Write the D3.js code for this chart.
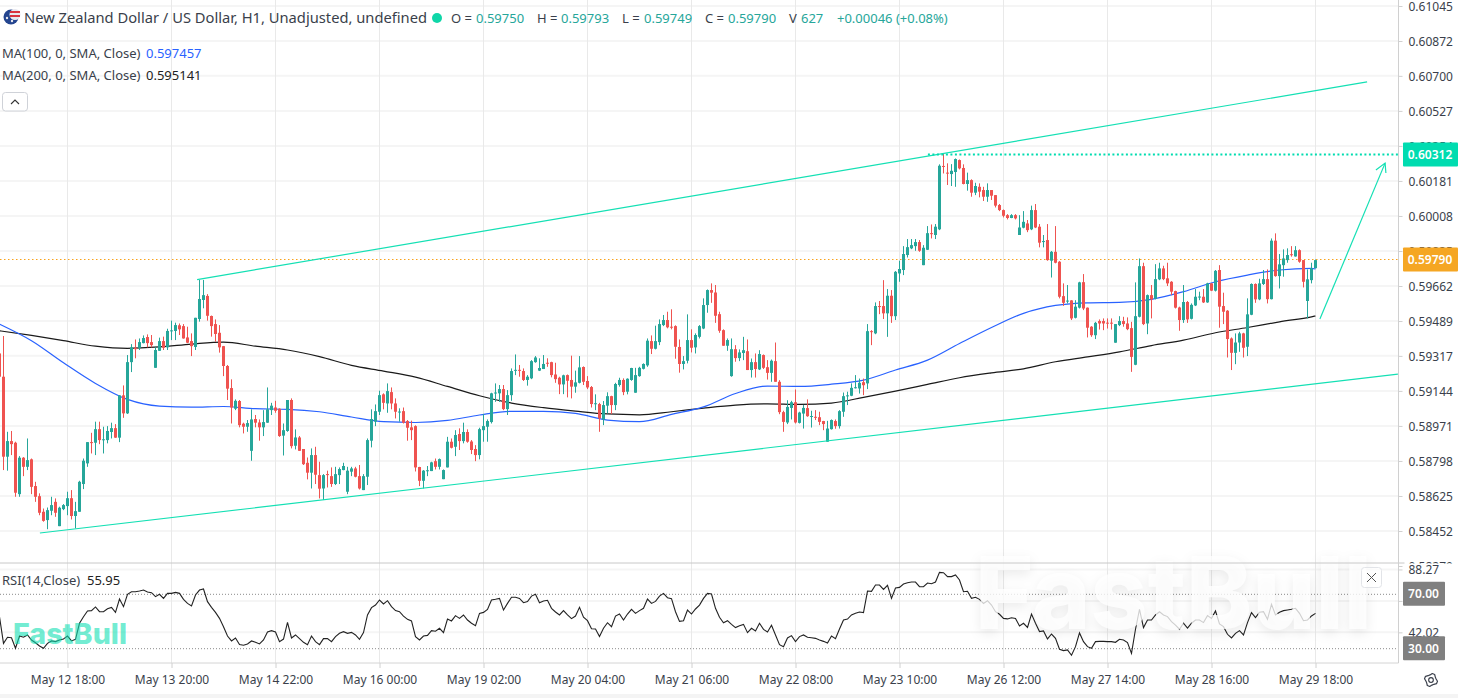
<!DOCTYPE html>
<html>
<head>
<meta charset="utf-8">
<script src="https://cdn.jsdelivr.net/npm/d3@7"></script>
<style>
body { margin: 0; background: #fff; }
svg { display: block; font-family: "Noto Sans", sans-serif; }
.tick text { fill: #3a3f4b; font-size: 12px; }
</style>
</head>
<body>
<div id="chart"></div>
<script>
// prices are kept in points (1 point = 0.00001 USD)
// one hourly bar per row: open, high, low, close
let ohlc = [
[59329,59329,59214,59214],[59214,59415,58753,58819],[58819,58942,58750,58896],[58896,58946,58827,58881],[58888,58893,58621,58641],
[58634,58822,58621,58814],[58814,58817,58723,58769],[58769,58909,58753,58802],[58806,58810,58634,58670],[58674,58695,58596,58621],
[58624,58638,58530,58542],[58547,58563,58498,58502],[58506,58568,58461,58555],[58552,58621,58530,58580],[58596,58613,58522,58542],
[58476,58572,58476,58567],[58560,58585,58555,58580],[58575,58646,58530,58614],[58614,58654,58509,58526],[58526,58596,58465,58550],
[58547,58700,58547,58695],[58684,58810,58659,58799],[58786,58891,58769,58891],[58891,58937,58835,58888],[58888,58992,58827,58955],
[58955,58992,58881,58901],[58904,58967,58835,58905],[58901,58970,58885,58946],[58941,58987,58909,58960],[58960,58980,58912,58913],
[58913,59123,58891,59122],[59122,59171,59011,59033],[59033,59321,59030,59286],[59286,59375,59237,59359],[59356,59398,59305,59350],
[59357,59403,59346,59385],[59380,59418,59379,59405],[59410,59423,59359,59380],[59385,59420,59359,59370],[59258,59359,59258,59346],
[59342,59407,59342,59390],[59390,59412,59346,59357],[59359,59451,59346,59440],[59440,59491,59395,59443],[59440,59481,59395,59469],
[59468,59477,59420,59448],[59464,59474,59402,59403],[59408,59461,59380,59382],[59390,59428,59316,59365],[59361,59505,59346,59505],
[59499,59692,59486,59598],[59593,59692,59552,59617],[59613,59622,59491,59515],[59514,59516,59412,59464],[59474,59497,59387,59425],
[59431,59469,59333,59359],[59365,59366,59217,59267],[59267,59272,59099,59155],[59158,59201,58983,59062],[59056,59102,59049,59095],
[59094,59099,58964,58975],[58982,58987,58934,58967],[58967,59000,58942,58985],[58848,59053,58799,59003],[59005,59025,58964,58987],
[58988,59003,58898,58964],[58964,59049,58921,58990],[58987,59161,58986,59053],[59049,59085,59025,59071],[59062,59095,59036,59046],
[59056,59058,58917,58921],[58923,58983,58825,58950],[58946,59099,58942,59099],[59099,59107,58860,58871],[58873,58954,58855,58914],
[58914,58921,58848,58848],[58857,58857,58778,58782],[58789,58815,58707,58740],[58740,58860,58662,58827],[58827,58868,58684,58730],
[58728,58794,58613,58661],[58662,58733,58605,58728],[58733,58750,58667,58730],[58723,58766,58670,58684],[58684,58769,58679,58733],
[58728,58766,58684,58758],[58753,58789,58752,58773],[58646,58769,58634,58750],[58745,58769,58723,58761],[58761,58769,58717,58720],
[58723,58778,58657,58662],[58654,58733,58654,58723],[58720,58909,58679,58901],[58898,59053,58865,59005],[58992,59077,58970,59044],
[59041,59145,59025,59123],[59127,59132,59053,59085],[59082,59181,59036,59143],[59138,59161,59053,59082],[59082,59107,59008,59041],
[59041,59058,58992,59042],[59044,59062,58983,58987],[58995,59000,58898,58962],[58964,58997,58901,58950],[58970,58974,58746,58766],
[58768,58769,58674,58700],[58700,58753,58662,58750],[58751,58773,58723,58752],[58748,58794,58748,58791],[58797,58810,58756,58769],
[58769,58810,58756,58807],[58708,58756,58708,58753],[58766,58917,58766,58893],[58893,58909,58860,58863],[58868,58950,58822,58926],
[58931,58959,58852,58896],[58896,58987,58885,58941],[58941,58954,58888,58893],[58894,58901,58832,58852],[58857,58876,58797,58827],
[58827,58962,58806,58955],[58950,59030,58893,58970],[58967,59003,58893,58995],[58990,59135,58983,59132],[59135,59181,59090,59136],
[59132,59173,59090,59153],[59153,59173,59049,59054],[59054,59148,59025,59123],[59123,59255,59095,59242],[59247,59324,59222,59248],
[59248,59272,59214,59245],[59242,59255,59193,59198],[59198,59222,59170,59214],[59206,59296,59202,59291],[59286,59316,59283,59309],
[59244,59305,59242,59257],[59252,59321,59252,59277],[59283,59305,59263,59282],[59286,59288,59211,59222],[59225,59283,59184,59202],
[59209,59214,59128,59176],[59176,59224,59128,59221],[59222,59225,59112,59194],[59198,59318,59107,59165],[59165,59244,59135,59186],
[59184,59316,59181,59260],[59262,59265,59173,59189],[59193,59217,59153,59161],[59163,59168,59062,59079],[59082,59127,59049,59083],
[59079,59085,58942,59008],[59003,59094,58975,59074],[59071,59137,59033,59118],[59118,59120,59030,59074],[59074,59184,59049,59178],
[59173,59209,59165,59198],[59198,59206,59123,59138],[59140,59206,59127,59204],[59198,59258,59194,59257],[59135,59258,59135,59222],
[59217,59263,59214,59258],[59253,59280,59250,59277],[59270,59403,59263,59392],[59390,59418,59326,59352],[59352,59466,59349,59390],
[59385,59497,59370,59474],[59469,59519,59464,59494],[59494,59535,59453,59458],[59461,59547,59448,59459],[59464,59468,59303,59362],
[59361,59398,59234,59277],[59277,59316,59250,59291],[59293,59522,59280,59395],[59395,59448,59334,59357],[59359,59428,59329,59420],
[59411,59469,59403,59464],[59452,59601,59449,59568],[59568,59645,59530,59642],[59642,59675,59579,59629],[59630,59667,59480,59515],
[59523,59535,59431,59441],[59444,59448,59367,59367],[59367,59403,59342,59395],[59217,59403,59214,59350],[59350,59370,59288,59306],
[59306,59349,59291,59334],[59331,59411,59296,59345],[59340,59398,59247,59247],[59247,59304,59210,59286],[59286,59329,59210,59252],
[59250,59345,59247,59326],[59321,59324,59252,59258],[59261,59296,59200,59233],[59233,59299,59189,59293],[59291,59383,59189,59189],
[59189,59197,59029,59039],[59039,59046,58942,58991],[58988,59098,58980,59065],[59060,59095,59003,59088],[59088,59151,58983,58988],
[58986,59041,58983,59037],[59032,59074,58958,59060],[59059,59102,59016,59019],[59019,59046,58963,59020],[59016,59049,59000,59015],
[59014,59041,58975,58991],[58995,58996,58950,58980],[58893,58996,58893,58958],[58955,59003,58953,59000],[58995,59003,58957,58970],
[58970,59049,58958,59044],[59041,59136,59016,59118],[59121,59140,59074,59122],[59120,59181,59118,59159],[59161,59222,59156,59162],
[59156,59205,59131,59184],[59187,59205,59123,59172],[59181,59474,59153,59439],[59439,59444,59370,59437],[59428,59581,59424,59563],
[59563,59588,59523,59561],[59563,59691,59499,59527],[59527,59647,59411,59614],[59614,59642,59480,59513],[59513,59736,59494,59732],
[59724,59787,59683,59746],[59741,59859,59716,59820],[59815,59894,59803,59854],[59848,59894,59844,59864],[59859,59894,59836,59879],
[59879,59889,59831,59836],[59765,59864,59765,59851],[59841,59958,59840,59923],[59923,59966,59897,59921],[59914,59968,59894,59955],
[59942,60263,59938,60256],[60255,60314,60218,60253],[60222,60268,60161,60220],[60215,60264,60156,60231],[60225,60292,60152,60289],
[60284,60287,60238,60243],[60245,60263,60164,60166],[60166,60222,60133,60185],[60185,60189,60103,60123],[60123,60172,60111,60156],
[60152,60169,60100,60128],[60136,60152,60082,60103],[60103,60169,60078,60136],[60136,60136,60087,60108],[60111,60111,60050,60059],
[60062,60067,60032,60037],[60037,60040,60001,60009],[60012,60017,59991,59998],[59998,60017,59997,60012],[60012,60017,59991,59996],
[59914,60012,59914,59951],[59950,60032,59947,59979],[59971,59988,59928,59938],[59942,60059,59938,60037],[60037,60067,59948,59951],
[59955,59968,59853,59876],[59882,59914,59853,59884],[59889,59968,59787,59790],[59787,59835,59704,59831],[59831,59958,59774,59777],
[59782,59785,59601,59609],[59612,59675,59564,59579],[59589,59667,59576,59590],[59591,59592,59494,59502],[59505,59592,59502,59560],
[59555,59683,59551,59680],[59681,59721,59543,59551],[59555,59556,59408,59456],[59461,59464,59411,59419],[59419,59485,59400,59480],
[59489,59497,59447,59477],[59489,59502,59444,59477],[59481,59502,59452,59480],[59481,59502,59447,59480],[59382,59474,59382,59474],
[59469,59513,59464,59489],[59489,59510,59461,59474],[59477,59507,59444,59449],[59454,59485,59238,59312],[59273,59680,59271,59513],
[59510,59798,59507,59760],[59760,59777,59469,59474],[59477,59620,59424,59617],[59617,59667,59502,59596],[59599,59770,59596,59696],
[59695,59777,59691,59749],[59749,59762,59691,59696],[59700,59777,59662,59675],[59683,59686,59617,59634],[59637,59639,59551,59555],
[59556,59560,59441,59494],[59494,59667,59480,59583],[59583,59588,59480,59497],[59500,59576,59497,59569],[59566,59647,59563,59609],
[59609,59634,59592,59610],[59609,59647,59578,59581],[59581,59678,59579,59675],[59675,59676,59637,59639],[59639,59741,59635,59737],
[59741,59765,59456,59560],[59563,59629,59474,59535],[59540,59543,59309,59400],[59403,59408,59247,59332],[59332,59428,59276,59383],
[59383,59436,59337,59428],[59428,59431,59309,59357],[59362,59601,59316,59522],[59520,59675,59518,59672],[59672,59675,59579,59596],
[59596,59698,59592,59675],[59672,59741,59667,59696],[59696,59744,59576,59597],[59597,59897,59596,59886],[59886,59922,59708,59711],
[59711,59820,59650,59769],[59765,59843,59708,59798],[59790,59848,59777,59815],[59819,59859,59807,59817],[59808,59859,59807,59839],
[59839,59843,59777,59782],[59790,59790,59655,59683],[59588,59744,59502,59695],[59691,59777,59675,59749],[59750,59793,59749,59790]
];

// moving averages, read at these bars
let maBars = [0,8,16,24,32,40,48,56,64,72,80,88,96,104,112,120,128,136,144,152,160,168,176,184,192,200,208,216,224,232,240,248,256,264,272,280,288,296,304,312,320,328,329];
let ma100 = [59474,59392,59283,59181,59102,59069,59064,59067,59056,59053,59041,59015,58992,58988,58998,59025,59043,59043,59033,59000,58992,59028,59065,59131,59168,59166,59177,59197,59247,59296,59378,59457,59527,59566,59579,59581,59596,59634,59683,59716,59741,59749,59746];
let ma200 = [59441,59418,59392,59365,59354,59361,59375,59385,59365,59346,59313,59270,59242,59212,59166,59120,59084,59061,59044,59030,59026,59041,59059,59074,59080,59077,59084,59112,59143,59176,59209,59233,59253,59288,59312,59337,59368,59395,59431,59457,59485,59510,59514];

// RSI(14), one value per bar
let rsi14 = [
53.5,33.9,38.4,38.1,30.3,39.3,38.4,40.1,36.4,34.4,32.0,30.3,33.9,35.7,35.2,36.4,37.1,39.3,35.7,36.9,48.7,53.5,57.7,58.0,60.7,57.2,57.2,59.4,60.4,56.7,
66.5,60.9,70.0,71.9,71.9,72.4,73.1,71.7,71.2,68.3,70.0,67.0,70.7,70.7,71.4,70.7,66.3,63.3,61.4,69.5,73.1,73.9,64.6,60.4,56.7,52.3,46.2,39.3,35.7,37.9,
33.0,32.5,33.5,35.7,34.7,33.5,36.4,42.3,43.3,42.3,35.2,37.1,49.4,37.9,40.1,37.4,34.7,33.0,39.3,35.2,33.0,37.4,37.4,35.2,38.9,41.3,42.5,41.3,42.0,40.1,
36.9,41.8,54.8,60.2,62.1,65.8,62.9,65.3,60.9,58.0,57.2,54.0,51.6,50.4,38.9,36.4,39.3,39.8,43.3,42.8,45.0,41.8,51.8,50.4,54.3,52.3,54.8,51.1,48.7,46.9,
56.0,56.7,58.9,65.8,66.3,67.0,58.4,63.3,67.8,67.8,67.0,63.8,64.6,68.7,70.0,63.8,65.1,65.6,59.7,57.0,54.8,58.0,54.8,52.1,54.0,60.4,53.1,50.6,44.7,44.5,
38.9,45.0,49.1,46.2,54.0,55.5,51.1,55.5,58.9,56.0,58.0,59.7,66.5,63.3,64.8,68.7,70.7,67.5,66.8,57.2,50.1,50.6,58.4,55.5,59.2,62.1,67.0,70.7,70.2,59.7,
53.1,49.1,50.6,47.9,45.5,46.9,47.9,41.8,45.0,43.0,48.7,44.2,42.3,47.2,40.1,33.0,31.5,37.9,39.6,35.2,38.9,40.1,38.4,38.1,37.6,36.4,35.4,34.2,39.3,37.4,
44.5,51.1,51.8,54.8,56.0,57.0,56.5,72.4,72.2,76.8,76.8,73.6,76.6,67.0,74.6,75.1,77.6,78.5,79.0,79.0,75.6,75.6,78.3,77.8,79.0,86.1,85.9,83.0,83.0,84.2,
80.5,71.9,72.2,67.0,67.8,66.3,63.3,65.3,62.1,57.2,55.3,52.3,51.9,52.8,52.3,46.7,48.7,45.7,55.5,48.7,42.6,43.1,37.2,40.8,37.6,29.6,28.6,29.1,25.2,31.5,
41.6,35.2,31.5,30.3,35.2,35.4,35.4,35.2,35.2,34.7,36.9,36.4,34.5,26.6,44.3,59.0,45.5,51.1,51.1,54.8,57.2,54.8,53.6,49.9,47.4,44.3,48.7,45.2,48.7,51.1,
51.1,49.2,54.3,52.3,57.7,48.2,46.2,40.6,37.9,41.3,43.3,40.1,49.2,56.5,52.8,56.8,57.2,51.6,62.6,54.8,56.8,58.0,58.5,59.0,59.7,56.0,50.6,51.1,54.1,55.95
];

let priceTicks = [58279,58452,58625,58798,58971,59144,59317,59489,59662,59835,60008,60181,60354,60527,60700,60872,61045];
let rsiTicks = [88.27,65.15,42.02];
let rsiBands = [70,30];
let timeBars = [17,43,69,95,121,147,173,199,225,251,277,303,329];
let timeLabels = ["May 12 18:00","May 13 20:00","May 14 22:00","May 16 00:00","May 19 02:00","May 20 04:00","May 21 06:00","May 22 08:00","May 23 10:00","May 26 12:00","May 27 14:00","May 28 16:00","May 29 18:00"];

// drawing tools, [bar, price] anchors
let upperChannel = [[49.4,59694],[341.9,60670]];
let lowerChannel = [[10.1,58442],[349.6,59227]];
let targetLine = [[232.1,60312],[349.6,60312]];
let arrowShaft = [[330.1,59499],[346.4,60269]];
let arrowHead = [[344.1,60235],[346.4,60269],[346.6,60220]];
let lastClose = 59790;
let targetPrice = 60312;

let width = 1458;
let height = 698;
let plotRight = 1398.5;
let panelSplit = 563;
let panelBottom = 663;
let colorUp = "#26a69a";
let colorDown = "#ef5350";
let colorTool = "#14e0b4";
let colorText = "#3a3f4b";

let fmtPrice = d => (d / 100000).toFixed(5);

let x = d3.scaleLinear().domain([0, 349.75]).range([-0.5, plotRight]);
let y = d3.scaleLinear().domain([58452, 61045]).range([531, 6]);
let yRsi = d3.scaleLinear().domain([30, 70]).range([648.7, 594.3]);

let svg = d3.select("#chart").append("svg")
    .attr("width", width)
    .attr("height", height);

let defs = svg.append("defs");
defs.append("clipPath").attr("id", "price-clip").append("rect")
    .attr("width", plotRight).attr("height", panelSplit);
defs.append("clipPath").attr("id", "low-clip").append("rect")
    .attr("x", 0).attr("y", -12).attr("width", 60).attr("height", 9);

svg.append("rect").attr("y", 694).attr("width", width).attr("height", 4).attr("fill", "#f4f4f4");

// grid
let grid = svg.append("g");
grid.selectAll(".hp").data(priceTicks.slice(1)).join("line")
    .attr("x1", 0).attr("x2", plotRight)
    .attr("y1", d => y(d)).attr("y2", d => y(d))
    .attr("stroke", "#f5f5f5").attr("stroke-width", 2);
grid.selectAll(".hr").data(rsiTicks).join("line")
    .attr("x1", 0).attr("x2", plotRight)
    .attr("y1", d => yRsi(d)).attr("y2", d => yRsi(d))
    .attr("stroke", "#f5f5f5").attr("stroke-width", 2);
grid.selectAll(".v").data(timeBars).join("line")
    .attr("x1", d => x(d)).attr("x2", d => x(d))
    .attr("y1", 0).attr("y2", panelBottom)
    .attr("stroke", "#e9e9e9").attr("stroke-width", 1);

// price panel
let plot = svg.append("g").attr("clip-path", "url(#price-clip)");

let maLine = d3.line()
    .x((d, i) => x(maBars[i]))
    .y(d => y(d))
    .curve(d3.curveMonotoneX);

plot.append("path").attr("d", maLine(ma200)).attr("fill", "none").attr("stroke", "#1a1a1a").attr("stroke-width", 1.2);
plot.append("path").attr("d", maLine(ma100)).attr("fill", "none").attr("stroke", "#2962ff").attr("stroke-width", 1.2);

// last close sits on a whole pixel row
plot.append("line")
    .attr("x1", 0).attr("x2", plotRight)
    .attr("y1", 259.5).attr("y2", 259.5)
    .attr("stroke", "#f9a21b").attr("stroke-dasharray", "1.5,2.5");

let candle = plot.selectAll(".candle").data(ohlc).join("g").attr("class", "candle")
    .attr("fill", d => d[3] >= d[0] ? colorUp : colorDown);
candle.append("rect")
    .attr("x", (d, i) => x(i) - 0.5)
    .attr("width", 1)
    .attr("y", d => y(d[1]))
    .attr("height", d => y(d[2]) - y(d[1]));
candle.append("rect")
    .attr("x", (d, i) => x(i) - 1.5)
    .attr("width", 3)
    .attr("y", d => y(Math.max(d[0], d[3])))
    .attr("height", d => Math.max(1, Math.abs(y(d[0]) - y(d[3]))));

// drawing tools
let toolLine = d3.line().x(d => x(d[0])).y(d => y(d[1]));
[upperChannel, lowerChannel, arrowShaft, arrowHead].forEach(pts => {
    plot.append("path").attr("d", toolLine(pts))
        .attr("fill", "none").attr("stroke", colorTool).attr("stroke-width", 1.2);
});
plot.append("path").attr("d", toolLine(targetLine))
    .attr("fill", "none").attr("stroke", "#00dcb0").attr("stroke-width", 2).attr("stroke-dasharray", "2,2.5");

// rsi panel
let rsiLine = d3.line().x((d, i) => x(i)).y(d => yRsi(d));
svg.selectAll(".band").data(rsiBands).join("line")
    .attr("x1", 0).attr("x2", plotRight)
    .attr("y1", d => yRsi(d)).attr("y2", d => yRsi(d))
    .attr("stroke", "#8a8a8a").attr("stroke-dasharray", "1,2");
svg.append("path").attr("d", rsiLine(rsi14))
    .attr("fill", "none").attr("stroke", "#222").attr("stroke-width", 1.1);

// watermarks go over the rsi line
svg.append("text").text("FastBull")
    .attr("x", 975).attr("y", 629)
    .attr("font-size", 101).attr("font-weight", 800).attr("font-family", "Inter")
    .attr("textLength", 397).attr("lengthAdjust", "spacingAndGlyphs")
    .attr("fill", "rgba(255,255,255,0.78)")
    .style("filter", "drop-shadow(0 4px 6px rgba(0,0,0,0.10))");
svg.append("text").text("FastBull")
    .attr("x", 13).attr("y", 644)
    .attr("font-size", 29).attr("font-weight", 800).attr("font-family", "Inter")
    .attr("textLength", 114).attr("lengthAdjust", "spacingAndGlyphs")
    .attr("fill", "rgba(20,224,180,0.6)");

// panel borders
svg.append("line").attr("x1", 0).attr("x2", plotRight + 6).attr("y1", panelSplit).attr("y2", panelSplit).attr("stroke", "#c8c8c8");
svg.append("line").attr("x1", 0).attr("x2", plotRight).attr("y1", panelBottom).attr("y2", panelBottom).attr("stroke", "#d4d4d4");
svg.append("line").attr("x1", plotRight).attr("x2", plotRight).attr("y1", 0).attr("y2", panelBottom).attr("stroke", "#d0d0d0");

// axes
let priceAxis = svg.append("g")
    .attr("transform", `translate(${plotRight},0)`)
    .call(d3.axisRight(y).tickValues(priceTicks).tickFormat(fmtPrice).tickSize(4).tickPadding(6));
let rsiAxis = svg.append("g")
    .attr("transform", `translate(${plotRight},0)`)
    .call(d3.axisRight(yRsi).tickValues(rsiTicks).tickFormat(d3.format(".2f")).tickSize(4).tickPadding(6));
let timeAxis = svg.append("g")
    .attr("transform", `translate(0,${panelBottom})`)
    .call(d3.axisBottom(x).tickValues(timeBars).tickFormat((d, i) => timeLabels[i]).tickSize(5).tickPadding(7));
[priceAxis, rsiAxis, timeAxis].forEach(a => {
    a.select(".domain").remove();
    a.selectAll(".tick line").attr("stroke", "#d0d0d0");
    a.attr("font-family", null);
});
priceAxis.selectAll(".tick text").attr("dy", "0.4em");
priceAxis.selectAll(".tick").filter(d => d === priceTicks[0]).select("text")
    .attr("clip-path", "url(#low-clip)");

// value badges
function badge(cy, label, fill, x0, x1) {
    svg.append("rect").attr("x", x0).attr("y", cy - 12).attr("width", x1 - x0).attr("height", 24).attr("rx", 1).attr("fill", fill);
    svg.append("text").text(label).attr("x", (x0 + x1) / 2 - 0.5).attr("y", cy + 4.5)
        .attr("text-anchor", "middle").attr("fill", "#fff").attr("font-size", 12).attr("font-weight", 600);
}
badge(y(targetPrice), fmtPrice(targetPrice), "#00dcb0", 1403, 1458);
badge(y(lastClose) - 0.5, fmtPrice(lastClose), "#f5a623", 1403, 1458);
badge(yRsi(70) - 0.5, "70.00", "#808080", 1403, 1445);
badge(yRsi(30) - 0.5, "30.00", "#808080", 1403, 1445);

// header
function label(px, py, text, fill, size) {
    return svg.append("text").text(text).attr("x", px).attr("y", py).attr("fill", fill).attr("font-size", size);
}
let flag = svg.append("g");
flag.append("circle").attr("cx", 11).attr("cy", 17).attr("r", 7.5).attr("fill", "#24458f");
flag.append("circle").attr("cx", 15).attr("cy", 14.5).attr("r", 5.5).attr("fill", "#e8e8ee");
flag.append("path").attr("d", "M10 11 h10 v2 h-10 z M10 15 h10 v2 h-10 z").attr("fill", "#d8333f");
flag.append("circle").attr("cx", 7).attr("cy", 18).attr("r", 1.2).attr("fill", "#e8e8ee");
flag.append("circle").attr("cx", 12).attr("cy", 21).attr("r", 1.2).attr("fill", "#e8e8ee");

label(24, 23, "New Zealand Dollar / US Dollar, H1, Unadjusted, undefined", colorText, 14.6)
    .attr("textLength", 403).attr("lengthAdjust", "spacingAndGlyphs");
svg.append("circle").attr("cx", 437).attr("cy", 18).attr("r", 5).attr("fill", "#0fd6a8");
[[451, "O =", 476, "0.59750"], [537, "H =", 561, "0.59793"], [622, "L =", 644, "0.59749"], [705, "C =", 728, "0.59790"]].forEach(d => {
    label(d[0], 23, d[1], colorText, 13);
    label(d[2], 23, d[3], colorUp, 13);
});
label(789, 23, "V", colorText, 13);
label(801, 23, "627", colorUp, 13);
label(837, 23, "+0.00046 (+0.08%)", colorUp, 13);

label(2, 58, "MA(100, 0, SMA, Close)", colorText, 13);
label(146, 58, "0.597457", "#2962ff", 13);
label(2, 80, "MA(200, 0, SMA, Close)", colorText, 13);
label(146, 80, "0.595141", "#222", 13);
label(2, 585, "RSI(14,Close)", colorText, 13);
label(87, 585, "55.95", "#222", 13);

svg.append("rect").attr("x", 2.5).attr("y", 92.5).attr("width", 25).attr("height", 18.5).attr("rx", 3)
    .attr("fill", "#fff").attr("stroke", "#cfd2d8");
svg.append("path").attr("d", "M11 104 l4 -4 l4 4").attr("fill", "none").attr("stroke", "#333").attr("stroke-width", 1.1);

// close button on the rsi panel
svg.append("rect").attr("x", 1361.5).attr("y", 567.5).attr("width", 20).attr("height", 20).attr("rx", 3)
    .attr("fill", "rgba(255,255,255,0.7)").attr("stroke", "#e2e4e8");
svg.append("path").attr("d", "M1367 573 l9 9 M1376 573 l-9 9").attr("stroke", "#555").attr("stroke-width", 1);

// settings gear
let gear = svg.append("g").attr("transform", "translate(1431,680)").attr("fill", "none").attr("stroke", "#3a3f4b").attr("stroke-width", 1.2);
gear.append("circle").attr("r", 2.3);
gear.append("path").attr("d", d3.range(16).map(k => {
    let a = (k + 0.5) * Math.PI / 8, r = (k % 4 < 2) ? 6.6 : 5.2;
    return (k ? "L" : "M") + (r * Math.cos(a)).toFixed(2) + " " + (r * Math.sin(a)).toFixed(2);
}).join("") + "Z").attr("stroke-linejoin", "round");
</script>
</body>
</html>
